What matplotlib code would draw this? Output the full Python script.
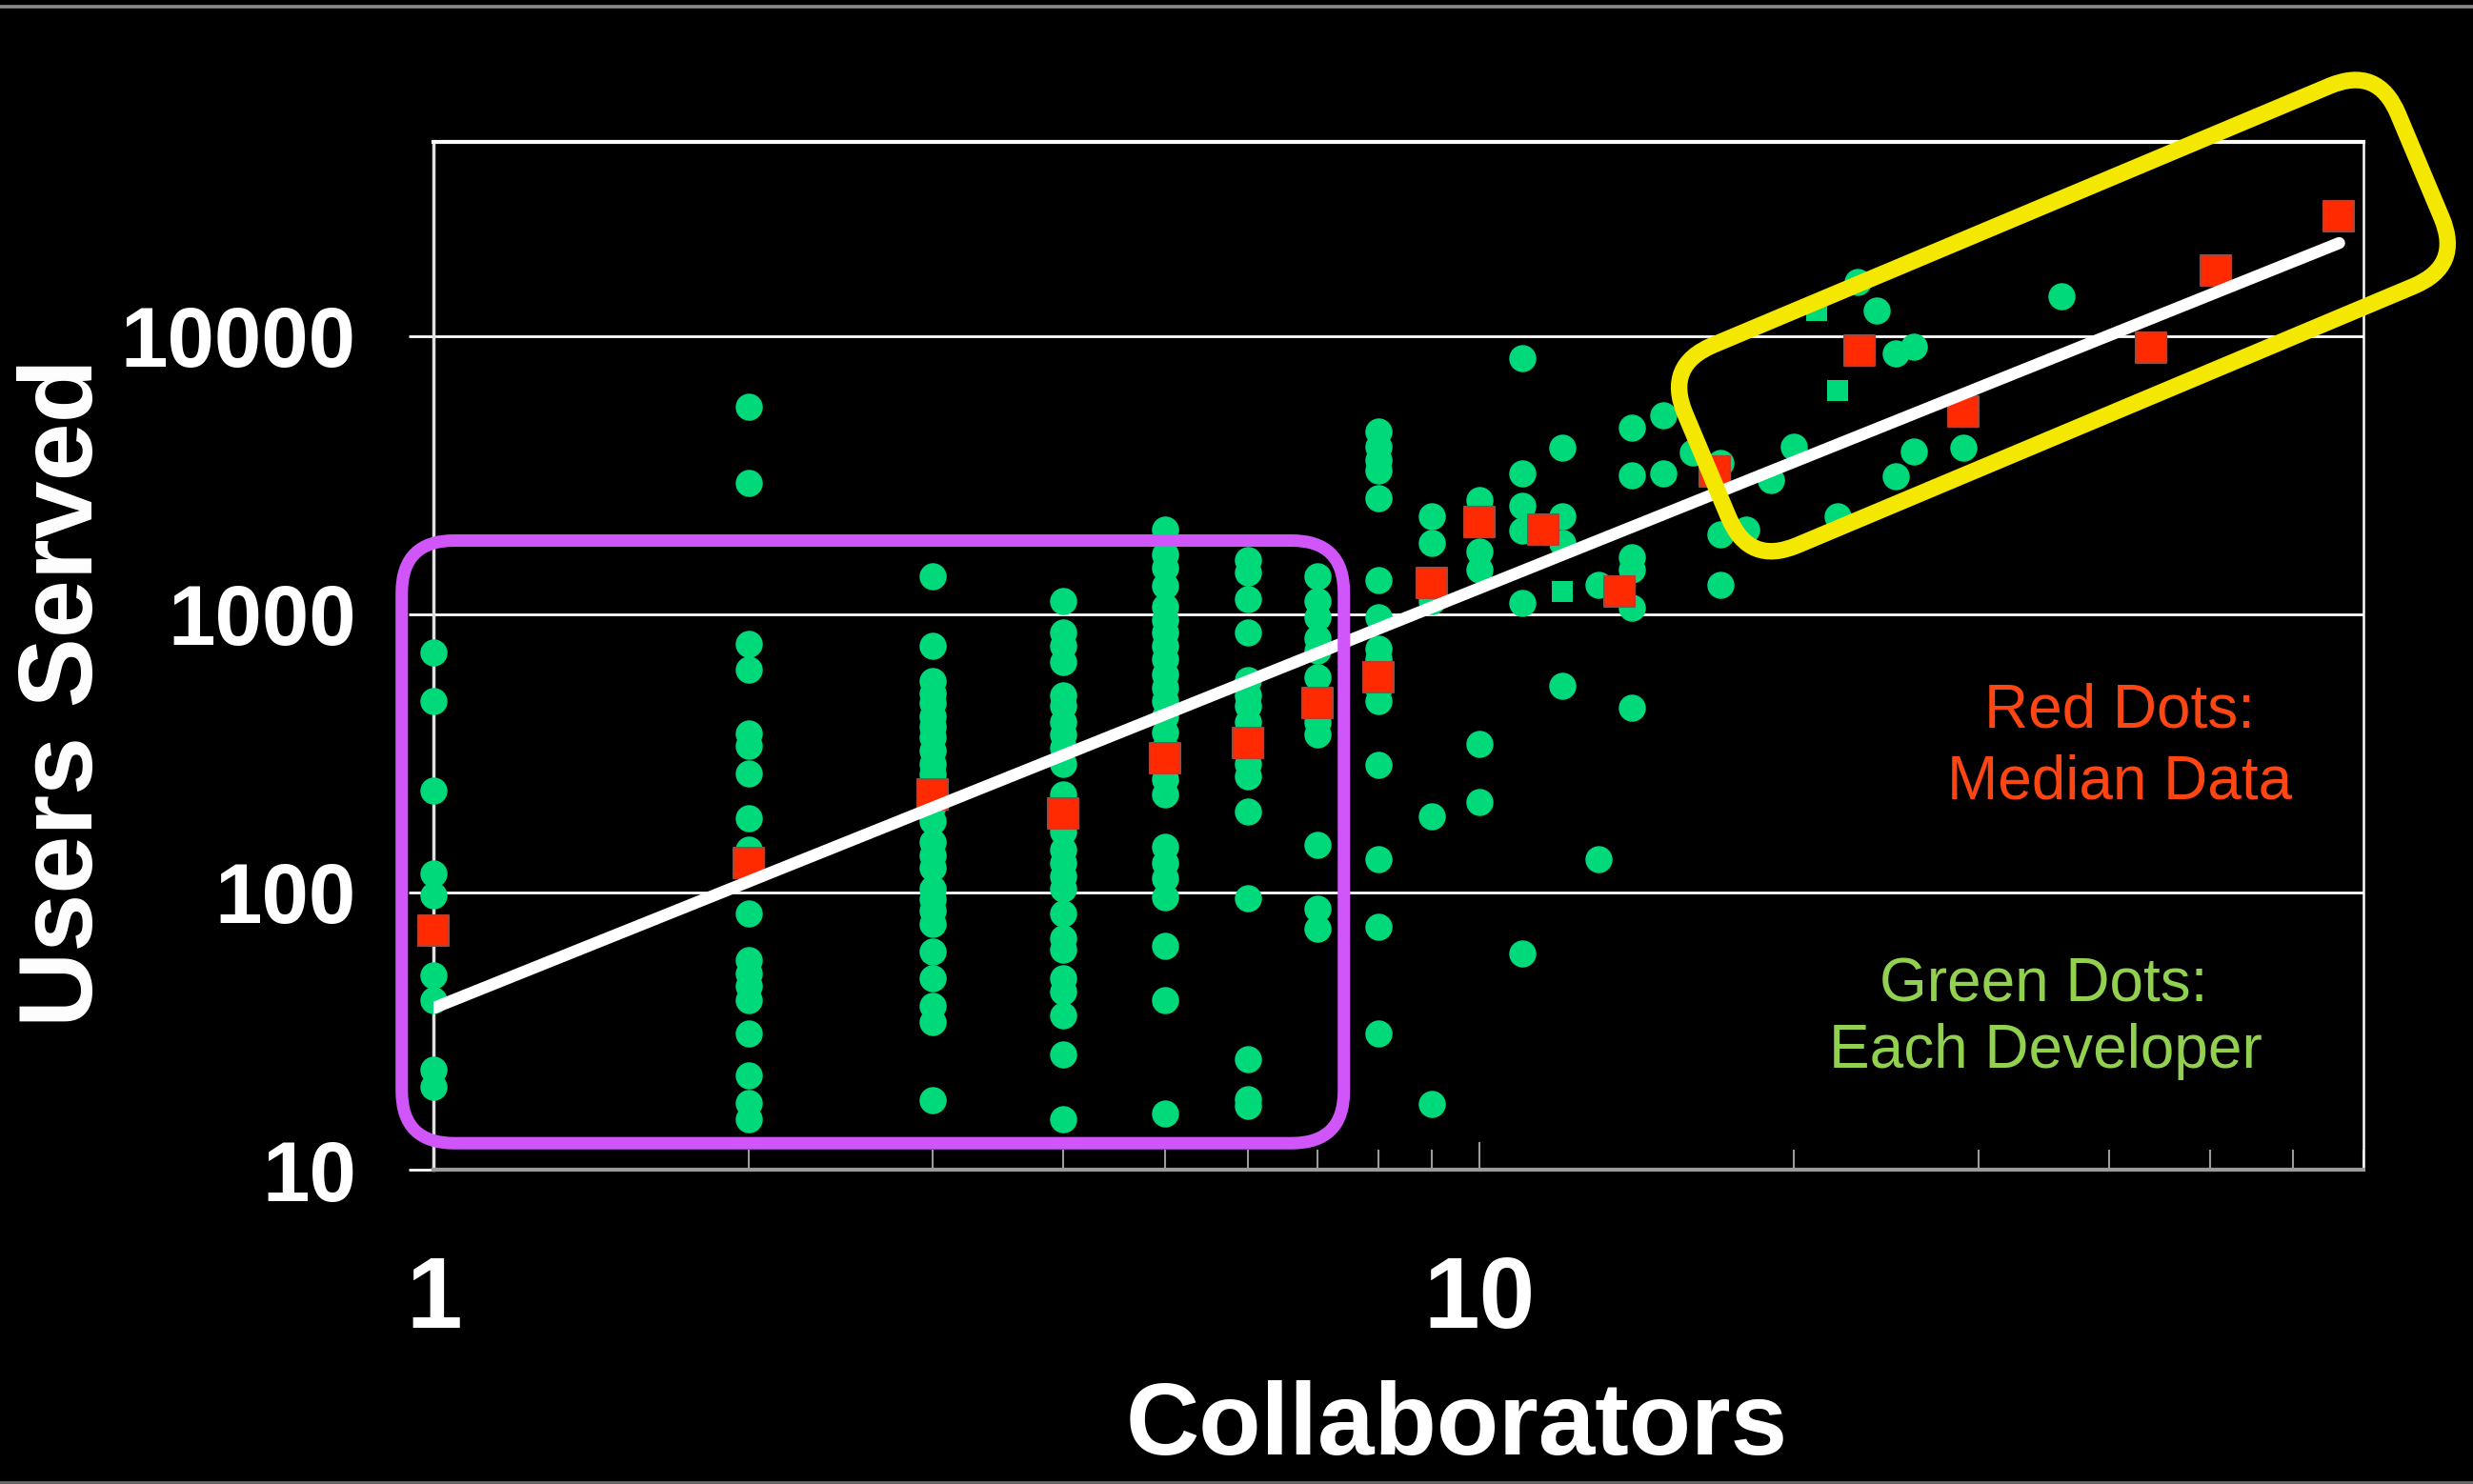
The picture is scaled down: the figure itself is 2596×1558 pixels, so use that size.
import math
import matplotlib
matplotlib.use('Agg')
import matplotlib.pyplot as plt
from matplotlib.patches import FancyBboxPatch
from matplotlib.transforms import Affine2D, IdentityTransform
from matplotlib.lines import Line2D
from matplotlib.ticker import NullFormatter

plt.rcParams['font.family'] = ['Liberation Sans', 'DejaVu Sans']

# every developer: collaborators vs users served
dev_collab = (
    [1] * 9 + [2] * 18 + [3] * 26 + [4] * 25 + [5] * 24 + [6] * 16 + [7] * 12
    + [8] * 15 + [9] * 5 + [10] * 5 + [11] * 6 + [12] * 4 + [13] * 2 + [14] * 6
    + [15] * 2 + [16] + [17] * 3 + [18, 19, 20, 22, 23, 24, 25, 25, 26, 26, 29, 36]
)
dev_users = (
    [726, 488, 232, 117, 97, 50, 41, 23, 20]
    + [5550, 2970, 780, 630, 373, 337, 268, 184, 142, 84, 57, 51, 46, 41, 31, 22, 17.4, 15.3]
    + [1365, 768, 574, 520, 477, 428, 393, 360, 323, 290, 266, 240, 205, 180, 151, 136,
       122, 103, 94, 86, 77, 61, 49, 39, 34, 17.8]
    + [1110, 855, 768, 674, 509, 467, 410, 368, 330, 290, 224, 205, 165, 142, 127, 114,
       103, 84, 68, 62, 49, 44, 36, 26, 15.3]
    + [2018, 1637, 1469, 1264, 1062, 953, 855, 768, 689, 605, 543, 488, 428, 376, 330,
       255, 224, 145, 127, 112, 96, 64, 41, 16]
    + [1567, 1406, 1134, 855, 579, 509, 467, 410, 370, 290, 260, 195, 95, 25, 18, 17]
    + [1365, 1110, 975, 820, 736, 593, 509, 410, 368, 148, 87, 74]
    + [4530, 3980, 3573, 3277, 2612, 1320, 975, 751, 689, 540, 488, 286, 131, 75, 31]
    + [2244, 1803, 1110, 188, 17.3]
    + [2564, 1675, 1443, 342, 211]
    + [8343, 3213, 2449, 2000, 1099, 60]
    + [3956, 2249, 1808, 553]
    + [1276, 131]
    + [4677, 3141, 1600, 1443, 1052, 461]
    + [5188, 3213]
    + [3820]
    + [3500, 1936, 1276]
    + [2010, 3041, 3990, 2254, 15600, 12360, 8650, 3133, 9160, 3845, 3953, 13870]
)

# developers plotted with square markers
sq_collab = [12, 21, 22]
sq_users = [1206, 12300, 6370]

# median of each group
med_collab = [1, 2, 3, 4, 5, 6, 7, 8, 9, 10, 11.5, 13.6, 16.8, 23.1, 29.0, 43.9, 50.6, 66.3]
med_users = [72.6, 127, 224, 192, 303, 345, 477, 593, 1291, 2138, 2010, 1206, 3258,
             8860, 5350, 9090, 17250, 27000]

# power-law trend line end points
trend_collab = [1, 66.4]
trend_users = [38.3, 21580]

# highlighted regions (data units)
small_team_x = (0.932, 7.42)
small_team_y = (12.5, 1837)
large_team_from = (16.5, 3420)
large_team_to = (79.3, 40900)

fig = plt.figure(figsize=(25.96, 15.58), dpi=100, facecolor='black')
ax = fig.add_axes([0.17539, 0.21149, 0.78020, 0.69313])
ax.set_facecolor('black')
ax.set_xscale('log')
ax.set_yscale('log')

ax.scatter(dev_collab, dev_users, s=420, marker='o', color='#00D97A', lw=0,
           zorder=3, clip_on=False)
ax.scatter(sq_collab, sq_users, s=240, marker='s', color='#00D97A', lw=0,
           zorder=3, clip_on=False)
ax.scatter(med_collab, med_users, s=560, marker='s', color='#FF2A00',
           edgecolors='#B8402F', linewidths=1.5, zorder=4, clip_on=False)
ax.plot(trend_collab, trend_users, color='white', lw=9, solid_capstyle='round', zorder=5)

ax.set_xlim(1, 70)
ax.set_ylim(10, 50000)

ax.set_xticks([1, 10], labels=['1', '10'], fontsize=76, fontweight='bold', color='white')
ax.set_xticks([2, 3, 4, 5, 6, 7, 8, 9, 20, 30, 40, 50, 60, 70], minor=True)
ax.xaxis.set_minor_formatter(NullFormatter())
ax.tick_params(axis='x', which='major', direction='in', length=21, width=1.5,
               color='#9A9A9A', pad=64)
ax.tick_params(axis='x', which='minor', direction='in', length=15, width=1.5,
               color='#9A9A9A')

ax.set_yticks([10, 100, 1000, 10000], labels=['10', '100', '1000', '10000'],
              fontsize=64, fontweight='bold', color='white')
ax.set_yticks([], minor=True)
ax.tick_params(axis='y', which='major', direction='out', length=18.7, width=2,
               color='white', pad=40)

ax.set_axisbelow(True)
ax.yaxis.grid(True, color='white', lw=2)
ax.spines['left'].set_color('#E0E0E0')
ax.spines['left'].set_linewidth(2.5)
ax.spines['right'].set_color('white')
ax.spines['right'].set_linewidth(1.8)
ax.spines['top'].set_color('white')
ax.spines['top'].set_linewidth(3)
ax.spines['bottom'].set_color('#9A9A9A')
ax.spines['bottom'].set_linewidth(3)

fig.text(0.589, 0.0199, 'Collaborators', ha='center', va='baseline',
         fontsize=77, fontweight='bold', color='white')
fig.text(0.03737, 0.5330, 'Users Served', rotation=90, rotation_mode='anchor',
         ha='center', va='baseline', fontsize=79, fontweight='bold', color='white')

ax.text(0.8738, 0.4308, 'Red Dots:', transform=ax.transAxes, ha='center',
        va='baseline', fontsize=46, color='#FF4512')
ax.text(0.8738, 0.3613, 'Median Data', transform=ax.transAxes, ha='center',
        va='baseline', fontsize=46, color='#FF4512')
ax.text(0.8343, 0.1637, 'Green Dots:', transform=ax.transAxes, ha='center',
        va='baseline', fontsize=46, color='#92D050')
ax.text(0.8353, 0.0995, 'Each Developer', transform=ax.transAxes, ha='center',
        va='baseline', fontsize=46, color='#92D050')

# purple box around the small teams
x0, y0 = ax.transData.transform((small_team_x[0], small_team_y[0]))
x1, y1 = ax.transData.transform((small_team_x[1], small_team_y[1]))
fig.add_artist(FancyBboxPatch((x0, y0), x1 - x0, y1 - y0,
                              boxstyle='round,pad=0,rounding_size=55',
                              transform=IdentityTransform(), fill=False,
                              ec='#D056FA', lw=9.4, zorder=6))

# yellow band along the trend for the large teams
ax0, ay0 = ax.transData.transform(large_team_from)
ax1, ay1 = ax.transData.transform(large_team_to)
band_len = math.hypot(ax1 - ax0, ay1 - ay0)
band_h = 228
ang = math.degrees(math.atan2(ay1 - ay0, ax1 - ax0))
cx, cy = (ax0 + ax1) / 2, (ay0 + ay1) / 2
fig.add_artist(FancyBboxPatch((cx - band_len / 2, cy - band_h / 2), band_len, band_h,
                              boxstyle='round,pad=0,rounding_size=55',
                              transform=Affine2D().rotate_deg_around(cx, cy, ang),
                              fill=False, ec='#F4E800', lw=12.5, zorder=6))

# slide rules at top and bottom
fig.add_artist(Line2D([0, 1], [0.9952, 0.9952], transform=fig.transFigure,
                      color='#8A8A8A', lw=2.6))
fig.add_artist(Line2D([0, 1], [0.0013, 0.0013], transform=fig.transFigure,
                      color='#6A6A6A', lw=2))

fig.savefig('out.png', dpi=100, facecolor='black')
